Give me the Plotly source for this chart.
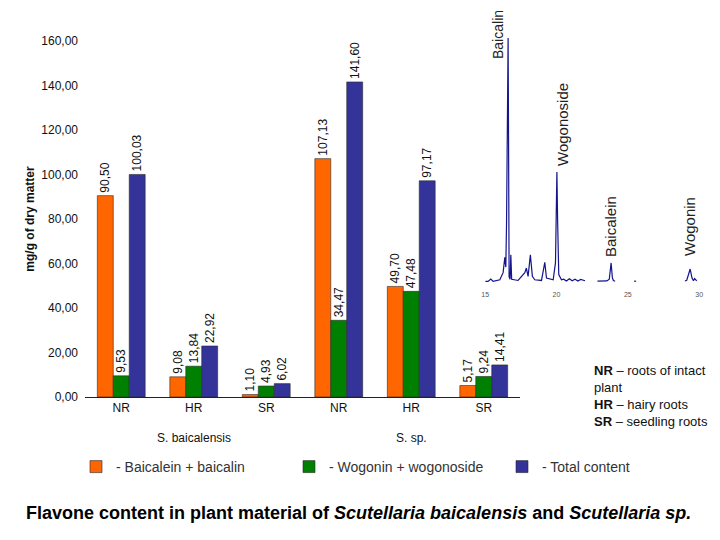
import plotly.graph_objects as go

# ---- bar chart data ----
categories = ["NR", "HR", "SR", "NR", "HR", "SR"]
species = ["S. baicalensis", "S. sp."]
baicalein_baicalin = [90.50, 9.08, 1.10, 107.13, 49.70, 5.17]
wogonin_wogonoside = [9.53, 13.84, 4.93, 34.47, 47.48, 9.24]
total_content = [100.03, 22.92, 6.02, 141.60, 97.17, 14.41]
series_names = ["- Baicalein + baicalin", "- Wogonin + wogonoside", "- Total content"]
series_colors = ["#FF6600", "#008000", "#333399"]

# ---- chromatogram (retention time, relative signal) ----
chrom_t = [15.02, 15.2, 15.4, 15.56, 16.03, 16.26, 16.38, 16.45, 16.50, 16.56, 16.61, 16.64,
           16.68, 16.75, 16.80, 16.86, 17.31, 17.78, 17.89, 18.01, 18.17, 18.31, 18.48, 18.95,
           19.18, 19.30, 19.77, 19.93, 19.97, 20.03, 20.08, 20.16, 20.35, 20.5, 20.7, 20.9,
           21.1, 21.3, 21.5, 21.7, 22.0, None,
           22.87, 23.53, 23.7, 23.83, 23.92, 23.99, 24.11, None,
           25.44, 25.58, None,
           29.0, 29.13, 29.37, 29.5, 29.6, 29.68, 29.83]
chrom_s = [0.1, 0.1, 1.1, 0.1, 0.8, 3.7, 10.0, 6.0, 24.0, 75.0, 100.0, 60.0,
           2.0, 1.0, 11.0, 1.0, 0.5, 3.7, 5.6, 2.2, 11.0, 2.2, 0.8, 0.5,
           7.9, 1.5, 0.8, 7.8, 20.0, 45.0, 25.0, 2.9, 0.8, 1.0, 0.3, 1.2,
           0.4, 1.0, 0.3, 0.9, 0.4, None,
           0.2, 0.3, 1.0, 7.7, 1.5, 0.5, 0.2, None,
           0.2, 0.2, None,
           0.3, 0.6, 5.2, 1.5, 0.4, 1.3, 0.3]
chrom_ticks = [15, 20, 25, 30]
peak_names = ["Baicalin", "Wogonoside", "Baicalein", "Wogonin"]

FONT = "Liberation Sans, Arial, sans-serif"
W, H = 712, 524
OFF = 8  # default page body margin


def sx(p):
    return (p - OFF) / W


def sy(p):
    return (H - (p - OFF)) / H


fig = go.Figure()
xpos = list(range(len(categories)))
for name, vals, col in zip(series_names, [baicalein_baicalin, wogonin_wogonoside, total_content], series_colors):
    fig.add_trace(go.Bar(
        x=xpos, y=vals, name=name, marker=dict(color=col, line=dict(width=0.6, color="#2a2a2a")),
        text=vals, texttemplate="%{y:.2f}", textposition="outside", textangle=-90,
        constraintext="none", cliponaxis=False,
        textfont=dict(family=FONT, size=12, color="#111"),
        xaxis="x", yaxis="y"))

fig.add_trace(go.Scatter(
    x=chrom_t, y=chrom_s, mode="lines", line=dict(color="#14148c", width=1.2),
    connectgaps=False, showlegend=False, xaxis="x2", yaxis="y2", hoverinfo="skip"))

fig.update_layout(
    template="none",
    width=W, height=H, margin=dict(l=0, r=0, t=0, b=0, pad=0, autoexpand=False),
    paper_bgcolor="white", plot_bgcolor="rgba(0,0,0,0)",
    separators=",.",
    font=dict(family=FONT, color="#111"),
    barmode="group", bargap=0.34, bargroupgap=0,
    xaxis=dict(domain=[sx(85), sx(520)], range=[-0.5, 5.5], automargin=False,
               tickvals=xpos, ticktext=categories, ticks="", showgrid=False,
               zeroline=False, showline=True, linecolor="#222", linewidth=1,
               tickfont=dict(size=12, family=FONT, color="#111")),
    yaxis=dict(domain=[sy(397), sy(41)], range=[0, 160], dtick=20, automargin=False,
               tickformat=".2f", showgrid=False, zeroline=False, showline=False,
               ticks="", ticklabelstandoff=6,
               tickfont=dict(size=12, family=FONT, color="#111"),
               title=dict(text="<b>mg/g of dry matter</b>", standoff=4,
                          font=dict(size=12, family=FONT, color="#111"))),
    xaxis2=dict(domain=[sx(478), sx(712)], range=[14.5, 30.9], anchor="y2",
                automargin=False,
                tickvals=chrom_ticks, ticks="", showgrid=False, zeroline=False,
                showline=False, tickfont=dict(size=7, family=FONT, color="#555")),
    yaxis2=dict(domain=[sy(289), sy(38)], range=[-3, 100], anchor="x2",
                visible=False, automargin=False),
    legend=dict(orientation="h", x=sx(76), y=sy(467), xanchor="left", yanchor="middle",
                entrywidth=168, entrywidthmode="pixels",
                font=dict(size=14, family=FONT, color="#333"), bgcolor="rgba(0,0,0,0)"),
)

# species group labels under the category ticks
for i, sp in enumerate(species):
    fig.add_annotation(x=1 + 3 * i, y=sy(438), xref="x", yref="paper", text=sp,
                       xanchor="center", yanchor="middle",
                       showarrow=False, font=dict(size=12, family=FONT, color="#111"))

# peak labels on the chromatogram
peak_pos = [(498, 35, 14), (562, 125, 15), (611, 227, 15), (690, 227, 15)]
for name, (px, py, fs) in zip(peak_names, peak_pos):
    fig.add_annotation(x=sx(px), y=sy(py), xref="paper", yref="paper", text=name,
                       xanchor="center", yanchor="middle",
                       textangle=-90, showarrow=False,
                       font=dict(size=fs, family=FONT, color="#222"))

# abbreviation key
fig.add_annotation(x=sx(592), y=sy(396), xref="paper", yref="paper", xanchor="left",
                   yanchor="middle", align="left", showarrow=False,
                   text="<b>NR</b> – roots of intact<br>plant<br><b>HR</b> – hairy roots<br><b>SR</b> – seedling roots",
                   font=dict(size=13, family=FONT, color="#111"))

# caption
fig.add_annotation(x=sx(358), y=sy(513), xref="paper", yref="paper", showarrow=False,
                   xanchor="center", yanchor="middle",
                   text="<b>Flavone content in plant material of <i>Scutellaria baicalensis</i> and <i>Scutellaria sp.</i></b>",
                   font=dict(size=18, family=FONT, color="#000"))

fig.write_html("out.html")
